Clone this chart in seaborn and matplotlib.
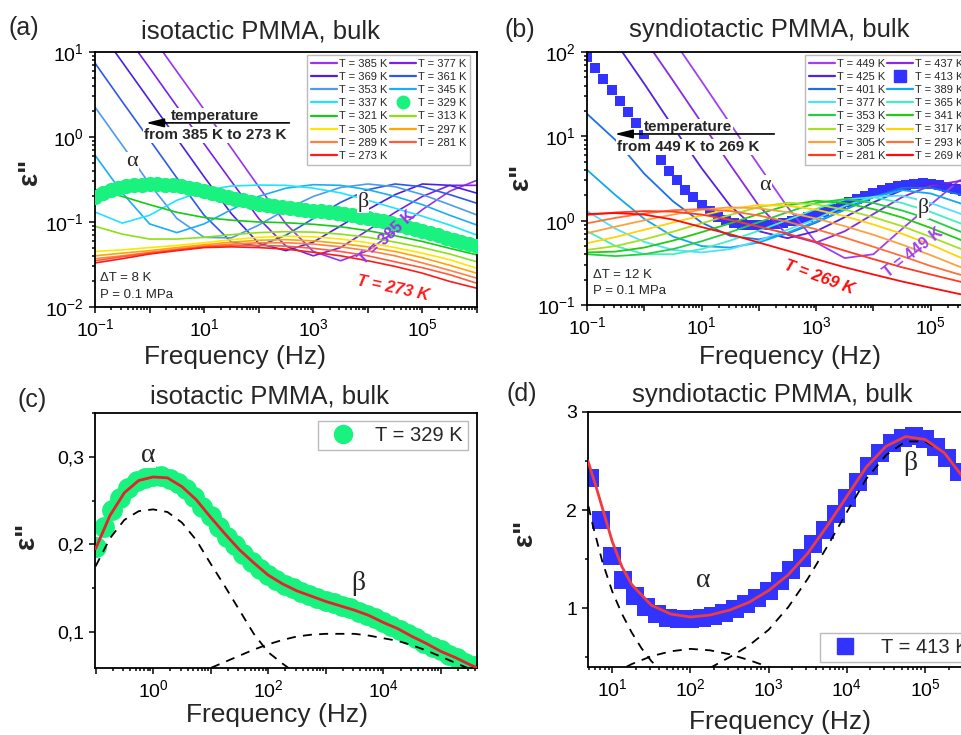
import numpy as np
import matplotlib
matplotlib.use("Agg")
import matplotlib.pyplot as plt
import seaborn as sns
from matplotlib.lines import Line2D
from matplotlib.ticker import LogLocator, FuncFormatter, MultipleLocator, NullFormatter

# ---------------- data ----------------
# frequency exponents (log10 Hz)
logf_grid = [-1.0, -0.5, 0.0, 0.5, 1.0, 1.5, 2.0, 2.5, 3.0, 3.5, 4.0, 4.5, 5.0, 5.5, 6.0]
logf_meas = [-1.0, -0.857, -0.714, -0.571, -0.429, -0.286, -0.143,
             0.0, 0.143, 0.286, 0.429, 0.571, 0.714, 0.857,
             1.0, 1.143, 1.286, 1.429, 1.571, 1.714, 1.857,
             2.0, 2.143, 2.286, 2.429, 2.571, 2.714, 2.857,
             3.0, 3.143, 3.286, 3.429, 3.571, 3.714, 3.857,
             4.0, 4.143, 4.286, 4.429, 4.571, 4.714, 4.857,
             5.0, 5.143, 5.286, 5.429, 5.571, 5.714, 5.857, 6.0]

# (a) isotactic PMMA, lines
iso_385 = [128, 45, 16.6, 5.9, 2.1, 0.74, 0.26, 0.095, 0.045, 0.035, 0.046, 0.078, 0.14, 0.23, 0.31]
iso_377 = [51, 18, 6.5, 2.3, 0.83, 0.30, 0.11, 0.052, 0.040, 0.050, 0.080, 0.13, 0.20, 0.27, 0.27]
iso_369 = [21.4, 7.6, 2.7, 0.96, 0.34, 0.125, 0.056, 0.046, 0.058, 0.09, 0.14, 0.21, 0.28, 0.27, 0.218]
iso_361 = [7.4, 2.6, 0.93, 0.33, 0.12, 0.058, 0.052, 0.07, 0.11, 0.17, 0.24, 0.28, 0.26, 0.21, 0.166]
iso_353 = [2.25, 0.80, 0.28, 0.11, 0.066, 0.065, 0.092, 0.14, 0.20, 0.255, 0.28, 0.26, 0.21, 0.16, 0.121]
iso_345 = [0.61, 0.22, 0.095, 0.075, 0.095, 0.14, 0.20, 0.25, 0.275, 0.27, 0.24, 0.20, 0.16, 0.12, 0.092]
iso_337 = [0.131, 0.097, 0.12, 0.18, 0.235, 0.265, 0.272, 0.27, 0.25, 0.22, 0.18, 0.145, 0.117, 0.092, 0.070]
iso_321 = [0.24, 0.20, 0.16, 0.13, 0.113, 0.105, 0.10, 0.098, 0.094, 0.088, 0.079, 0.069, 0.059, 0.049, 0.041]
iso_313 = [0.089, 0.072, 0.063, 0.063, 0.066, 0.071, 0.075, 0.077, 0.076, 0.072, 0.066, 0.058, 0.050, 0.042, 0.034]
iso_305 = [0.045, 0.047, 0.050, 0.053, 0.057, 0.062, 0.066, 0.068, 0.067, 0.063, 0.057, 0.050, 0.043, 0.036, 0.0285]
iso_297 = [0.040, 0.043, 0.046, 0.050, 0.054, 0.058, 0.061, 0.062, 0.060, 0.056, 0.051, 0.045, 0.038, 0.031, 0.0249]
iso_289 = [0.037, 0.040, 0.044, 0.048, 0.052, 0.055, 0.057, 0.057, 0.055, 0.051, 0.046, 0.040, 0.033, 0.027, 0.0218]
iso_281 = [0.035, 0.039, 0.043, 0.047, 0.051, 0.053, 0.053, 0.052, 0.049, 0.045, 0.040, 0.034, 0.029, 0.024, 0.019]
iso_273 = [0.033, 0.037, 0.042, 0.046, 0.050, 0.051, 0.050, 0.048, 0.044, 0.040, 0.035, 0.030, 0.025, 0.020, 0.0166]
# measured points at 329 K (panels a and c)
iso_329 = [0.197, 0.220, 0.239, 0.253, 0.264, 0.272, 0.276, 0.278, 0.278, 0.275,
           0.270, 0.263, 0.254, 0.243, 0.232, 0.220, 0.209, 0.199, 0.189, 0.180,
           0.172, 0.165, 0.159, 0.154, 0.150, 0.146, 0.142, 0.139, 0.136, 0.133,
           0.130, 0.127, 0.123, 0.120, 0.116, 0.111, 0.107, 0.102, 0.098, 0.093,
           0.088, 0.083, 0.079, 0.074, 0.070, 0.065, 0.061, 0.058, 0.055, 0.052]
temps_iso = [385, 377, 369, 361, 353, 345, 337, 329, 321, 313, 305, 297, 289, 281, 273]
colors_iso = ['#9933EE', '#7A22E6', '#4B20E0', '#2E5AE6', '#4C9BEF', '#1AAEF5', '#1EE4FF',
              '#1AF27F', '#14CC14', '#8EE014', '#FFE600', '#FFA500', '#FF8040', '#FF5A3C', '#FF1A1A']

# (b) syndiotactic PMMA, lines
syn_449 = [2000, 1000, 450, 141, 45, 14.1, 4.5, 1.45, 0.55, 0.36, 0.40, 0.80, 1.55, 3.0, 3.4]
syn_437 = [1400, 450, 143, 46, 14.5, 4.6, 1.5, 0.68, 0.55, 0.75, 1.2, 1.9, 2.6, 2.95, 2.8]
syn_425 = [400, 130, 42, 13, 4.2, 1.5, 0.75, 0.62, 0.75, 1.1, 1.65, 2.3, 2.75, 2.65, 2.25]
syn_401 = [18.5, 9.0, 3.6, 1.7, 0.95, 0.66, 0.60, 0.70, 0.95, 1.35, 1.90, 2.45, 2.45, 2.05, 1.6]
syn_389 = [4.0, 2.0, 1.05, 0.65, 0.50, 0.48, 0.55, 0.72, 0.98, 1.35, 1.90, 2.30, 2.10, 1.62, 1.2]
syn_377 = [1.30, 0.80, 0.56, 0.45, 0.42, 0.46, 0.58, 0.78, 1.05, 1.50, 1.92, 1.98, 1.62, 1.22, 0.92]
syn_365 = [0.75, 0.50, 0.40, 0.40, 0.46, 0.58, 0.76, 1.02, 1.38, 1.78, 1.90, 1.62, 1.27, 0.94, 0.70]
syn_353 = [0.40, 0.38, 0.40, 0.46, 0.57, 0.73, 0.96, 1.26, 1.62, 1.80, 1.62, 1.32, 1.03, 0.75, 0.55]
syn_341 = [0.42, 0.43, 0.48, 0.58, 0.73, 0.93, 1.20, 1.52, 1.72, 1.62, 1.37, 1.09, 0.82, 0.60, 0.43]
syn_329 = [0.45, 0.50, 0.60, 0.74, 0.93, 1.17, 1.45, 1.63, 1.56, 1.35, 1.10, 0.86, 0.64, 0.47, 0.34]
syn_317 = [0.54, 0.64, 0.78, 0.95, 1.15, 1.38, 1.53, 1.50, 1.35, 1.13, 0.90, 0.70, 0.52, 0.37, 0.27]
syn_305 = [0.71, 0.85, 1.01, 1.18, 1.35, 1.44, 1.40, 1.26, 1.06, 0.86, 0.68, 0.52, 0.39, 0.285, 0.22]
syn_293 = [0.93, 1.08, 1.22, 1.33, 1.37, 1.30, 1.15, 0.97, 0.79, 0.63, 0.49, 0.38, 0.29, 0.23, 0.19]
syn_281 = [1.17, 1.25, 1.30, 1.28, 1.18, 1.02, 0.85, 0.70, 0.56, 0.44, 0.35, 0.28, 0.23, 0.19, 0.16]
syn_269 = [1.20, 1.23, 1.18, 1.03, 0.84, 0.69, 0.55, 0.44, 0.35, 0.28, 0.23, 0.19, 0.16, 0.135, 0.115]
# measured points at 413 K (panels b and d)
syn_413 = [88, 65, 48, 35, 26, 19.5, 14.3, 10.4, 7.4, 5.2,
           3.9, 3.0, 2.33, 1.90, 1.53, 1.29, 1.12, 1.01, 0.94, 0.90,
           0.89, 0.89, 0.90, 0.92, 0.95, 0.99, 1.04, 1.10, 1.18, 1.28,
           1.39, 1.51, 1.65, 1.80, 1.96, 2.12, 2.29, 2.45, 2.58, 2.68,
           2.74, 2.76, 2.72, 2.64, 2.53, 2.39, 2.22, 2.04, 1.86, 1.68]
temps_syn = [449, 437, 425, 413, 401, 389, 377, 365, 353, 341, 329, 317, 305, 293, 281, 269]
colors_syn = ['#A040F0', '#8A2BE2', '#5522E0', '#3333FF', '#1F6FE0', '#10A8F0', '#50E0FF', '#40F0C0',
              '#20D040', '#22CC11', '#A8E020', '#FFD400', '#FFA040', '#FF7038', '#FF3A20', '#FF0A0A']

# (c) fit of 329 K and its two components
logf_fit_c = [-1, -0.75, -0.5, -0.25, 0, 0.25, 0.5, 0.75, 1, 1.25, 1.5, 1.75, 2, 2.25,
              2.5, 2.75, 3, 3.25, 3.5, 3.75, 4, 4.25, 4.5, 4.75, 5, 5.25, 5.5, 5.75]
fit_c = [0.195, 0.233, 0.259, 0.273, 0.277, 0.276, 0.266, 0.251, 0.231, 0.212, 0.194, 0.179, 0.165, 0.155,
         0.147, 0.141, 0.135, 0.130, 0.125, 0.119, 0.111, 0.104, 0.095, 0.087, 0.078, 0.071, 0.063, 0.056]
logf_alpha_c = [-1, -0.75, -0.5, -0.25, 0, 0.25, 0.5, 0.75, 1, 1.25, 1.5, 1.75, 2, 2.25, 2.5, 2.75]
alpha_c = [0.175, 0.207, 0.228, 0.238, 0.240, 0.237, 0.225, 0.205, 0.178, 0.152, 0.125, 0.098,
           0.077, 0.064, 0.052, 0.042]
logf_beta_c = [0.75, 1, 1.25, 1.5, 1.75, 2, 2.25, 2.5, 2.75, 3, 3.25, 3.5, 3.75, 4, 4.25, 4.5,
               4.75, 5, 5.25, 5.5, 5.75]
beta_c = [0.052, 0.059, 0.066, 0.073, 0.080, 0.086, 0.091, 0.095, 0.097, 0.098, 0.098, 0.098,
          0.096, 0.093, 0.090, 0.085, 0.079, 0.072, 0.065, 0.058, 0.052]

# (d) fit of 413 K and its components
logf_fit_d = [0.69, 0.8, 0.9, 1.0, 1.125, 1.25, 1.5, 1.75, 2.0, 2.25, 2.5, 2.75, 3.0, 3.25,
              3.5, 3.75, 4.0, 4.25, 4.5, 4.75, 5.0, 5.25, 5.5, 5.75]
fit_d = [2.50, 2.22, 1.95, 1.68, 1.42, 1.24, 1.03, 0.94, 0.91, 0.93, 0.98, 1.06, 1.18, 1.34,
         1.56, 1.84, 2.14, 2.44, 2.65, 2.75, 2.72, 2.58, 2.32, 2.00]
logf_cond_d = [0.65, 0.75, 0.875, 1.0, 1.125, 1.25, 1.375, 1.5, 1.625]
cond_d = [2.2, 1.85, 1.47, 1.17, 0.94, 0.75, 0.59, 0.46, 0.36]
logf_alpha_d = [1.0, 1.25, 1.5, 1.75, 2.0, 2.25, 2.5, 2.75, 3.0, 3.25]
alpha_d = [0.33, 0.43, 0.51, 0.56, 0.585, 0.57, 0.53, 0.47, 0.40, 0.33]
logf_beta_d = [2.25, 2.5, 2.75, 3.0, 3.25, 3.5, 3.75, 4.0, 4.25, 4.5, 4.75, 5.0, 5.25, 5.5, 5.75]
beta_d = [0.39, 0.50, 0.62, 0.78, 1.01, 1.30, 1.63, 1.98, 2.32, 2.56, 2.70, 2.70, 2.58, 2.33, 2.02]

# ---------------- style ----------------
sns.set_theme(style="ticks")
plt.rcParams['font.family'] = ['Liberation Sans', 'DejaVu Sans']
plt.rcParams['mathtext.fontset'] = 'custom'
plt.rcParams['mathtext.rm'] = 'Liberation Sans'
plt.rcParams['mathtext.it'] = 'Liberation Sans:italic'
plt.rcParams['mathtext.bf'] = 'Liberation Sans:bold'
plt.rcParams['axes.edgecolor'] = 'black'
plt.rcParams['axes.linewidth'] = 1.3
plt.rcParams['xtick.color'] = 'black'
plt.rcParams['ytick.color'] = 'black'

SERIF = ['Liberation Serif', 'DejaVu Serif']
W, H = 961, 735


def box(l, t, r, b):
    return [l / W, 1 - b / H, (r - l) / W, (b - t) / H]


def decade_label(v, rule):
    e = int(round(np.log10(v)))
    if rule == 'odd' and e % 2 == 0:
        return ''
    if rule == 'even' and e % 2 != 0:
        return ''
    return r'$\mathregular{10^{%d}}$' % e


def log_axis(axis, rule):
    axis.set_major_locator(LogLocator(base=10, numticks=30))
    axis.set_minor_locator(LogLocator(base=10, subs=np.arange(2, 10), numticks=30))
    axis.set_minor_formatter(NullFormatter())
    axis.set_major_formatter(FuncFormatter(lambda v, p: decade_label(v, rule)))


def style_ax(ax):
    ax.tick_params(which='both', direction='out', labelsize=14, width=1.1, top=False, right=False)
    ax.tick_params(which='major', length=4.5)
    ax.tick_params(which='minor', length=2.5)
    for s in ax.spines.values():
        s.set_visible(True)
        s.set_linewidth(1.3)


def labels(ax, xl, yl):
    ax.set_xlabel('Frequency (Hz)', fontsize=19, va='center')
    ax.xaxis.set_label_coords(*xl)
    ax.set_ylabel('ε"', fontsize=20, fontweight='bold', va='center')
    ax.yaxis.set_label_coords(*yl)


def greek(ax, x, y, s, size):
    ax.text(x, y, s, transform=ax.transAxes, fontsize=size, family=SERIF, ha='center', va='center',
            bbox=dict(fc='white', ec='none', pad=0.5), zorder=5)


def temp_note(ax, xc, y1, y2, text, xa, xb, ya):
    for y, s in [(y1, 'temperature'), (y2, text)]:
        ax.text(xc, y, s, transform=ax.transAxes, fontsize=11, fontweight='bold',
                ha='center', va='center', zorder=5,
                bbox=dict(fc='white', ec='none', pad=0.5))
    ax.annotate('', xy=(xb, ya), xytext=(xa, ya), xycoords='axes fraction',
                arrowprops=dict(arrowstyle='-|>,head_length=0.9,head_width=0.22', color='black',
                                lw=1.2, mutation_scale=12),
                zorder=7)


def temp_legend(ax, handles, order, **kw):
    ax.legend([handles[t] for t in order], ['T = %d K' % t for t in order], ncol=2, fontsize=8,
              borderaxespad=0, handlelength=2.35, handletextpad=0.18, columnspacing=0.18,
              labelspacing=0.28, borderpad=0.35, fancybox=False, framealpha=1,
              edgecolor='#BBBBBB', **kw)


fig = plt.figure(figsize=(9.61, 7.35), dpi=100)
ax_a = fig.add_axes(box(95, 52, 477, 307))
ax_b = fig.add_axes(box(587, 52, 988, 305))
ax_c = fig.add_axes(box(95, 413, 477, 668))
ax_d = fig.add_axes(box(588, 412, 972, 667))

freq_grid = 10.0 ** np.array(logf_grid)
freq_meas = 10.0 ** np.array(logf_meas)

# ---------------- (a) ----------------
ax = ax_a
ax.set_xscale('log')
ax.set_yscale('log')
iso_lines = [iso_385, iso_377, iso_369, iso_361, iso_353, iso_345, iso_337, None,
             iso_321, iso_313, iso_305, iso_297, iso_289, iso_281, iso_273]
handles_a = {}
for T, vals, col in zip(temps_iso, iso_lines, colors_iso):
    if vals is None:
        sns.scatterplot(x=freq_meas, y=iso_329, marker='o', s=120, color=col, linewidth=0,
                        ax=ax, zorder=3)
        handles_a[T] = Line2D([], [], marker='o', ls='none', color=col, markersize=9)
    else:
        sns.lineplot(x=freq_grid, y=vals, color=col, linewidth=1.2, ax=ax)
        handles_a[T] = Line2D([], [], color=col, lw=1.6)
ax.set_xlim(1e-1, 1e6)
ax.set_ylim(1e-2, 1e1)
log_axis(ax.xaxis, 'odd')
log_axis(ax.yaxis, 'all')
style_ax(ax)
labels(ax, (0.366, -0.195), (-0.17, 0.53))
temp_legend(ax, handles_a, temps_iso[0::2] + temps_iso[1::2],
            loc='upper right', bbox_to_anchor=(0.982, 0.988))
temp_note(ax, 0.314, 0.749, 0.675, 'from 385 K to 273 K', 0.516, 0.126, 0.722)
greek(ax, 0.097, 0.569, 'α', 16)
greek(ax, 0.702, 0.412, 'β', 16)
ax.text(0.764, 0.271, 'T = 385 K', transform=ax.transAxes, fontsize=11.5, fontweight='bold',
        color='#9933EE', rotation=43, ha='center', va='center', rotation_mode='anchor', zorder=5)
ax.text(0.780, 0.075, 'T = 273 K', transform=ax.transAxes, fontsize=12, fontweight='bold',
        fontstyle='italic', color='#FF1A1A', rotation=-12, ha='center', va='center',
        rotation_mode='anchor', zorder=5)
ax.text(0.013, 0.114, 'ΔT = 8 K', transform=ax.transAxes, fontsize=9.5, ha='left', va='center')
ax.text(0.013, 0.047, 'P = 0.1 MPa', transform=ax.transAxes, fontsize=9.5, ha='left', va='center')
ax.text(0.432, 1.082, 'isotactic PMMA, bulk', transform=ax.transAxes, fontsize=18.5,
        ha='center', va='center')

# ---------------- (b) ----------------
ax = ax_b
ax.set_xscale('log')
ax.set_yscale('log')
syn_lines = [syn_449, syn_437, syn_425, None, syn_401, syn_389, syn_377, syn_365,
             syn_353, syn_341, syn_329, syn_317, syn_305, syn_293, syn_281, syn_269]
handles_b = {}
for T, vals, col in zip(temps_syn, syn_lines, colors_syn):
    if vals is None:
        sns.scatterplot(x=freq_meas, y=syn_413, marker='s', s=48, color=col, linewidth=0,
                        ax=ax, zorder=1.8)
        handles_b[T] = Line2D([], [], marker='s', ls='none', color=col, markersize=8)
    else:
        sns.lineplot(x=freq_grid, y=vals, color=col, linewidth=1.3, ax=ax)
        handles_b[T] = Line2D([], [], color=col, lw=1.6)
ax.set_xlim(1e-1, 1e6)
ax.set_ylim(1e-1, 1e2)
log_axis(ax.xaxis, 'odd')
log_axis(ax.yaxis, 'all')
style_ax(ax)
labels(ax, (0.506, -0.204), (-0.165, 0.506))
temp_legend(ax, handles_b, temps_syn[0::2] + temps_syn[1::2],
            loc='upper left', bbox_to_anchor=(0.543, 0.988))
temp_note(ax, 0.252, 0.704, 0.625, 'from 449 K to 269 K', 0.474, 0.062, 0.676)
greek(ax, 0.444, 0.474, 'α', 16)
greek(ax, 0.838, 0.383, 'β', 16)
ax.text(0.813, 0.206, 'T = 449 K', transform=ax.transAxes, fontsize=11.5, fontweight='bold',
        color='#A040F0', rotation=38, ha='center', va='center', rotation_mode='anchor', zorder=5)
ax.text(0.579, 0.111, 'T = 269 K', transform=ax.transAxes, fontsize=12, fontweight='bold',
        fontstyle='italic', color='#FF0A0A', rotation=-20, ha='center', va='center',
        rotation_mode='anchor', zorder=5)
ax.text(0.015, 0.119, 'ΔT = 12 K', transform=ax.transAxes, fontsize=9.5, ha='left', va='center')
ax.text(0.015, 0.057, 'P = 0.1 MPa', transform=ax.transAxes, fontsize=9.5, ha='left', va='center')
ax.text(0.454, 1.087, 'syndiotactic PMMA, bulk', transform=ax.transAxes, fontsize=18.5,
        ha='center', va='center')

# ---------------- (c) ----------------
ax = ax_c
ax.set_xscale('log')
sns.scatterplot(x=freq_meas, y=iso_329, marker='o', s=225, color='#1AF27F', linewidth=0,
                ax=ax, zorder=2.5)
sns.lineplot(x=10.0 ** np.array(logf_alpha_c), y=alpha_c, color='black', linewidth=1.3,
             linestyle=(0, (5, 4)), ax=ax, zorder=3)
sns.lineplot(x=10.0 ** np.array(logf_beta_c), y=beta_c, color='black', linewidth=1.3,
             linestyle=(0, (5, 4)), ax=ax, zorder=3)
sns.lineplot(x=10.0 ** np.array(logf_fit_c), y=fit_c, color='#E8202A', linewidth=2.0, ax=ax,
             zorder=4)
ax.set_xlim(10 ** -1.01, 10 ** 5.63)
ax.set_ylim(0.059, 0.35)
log_axis(ax.xaxis, 'even')
ax.yaxis.set_major_locator(MultipleLocator(0.1))
ax.yaxis.set_minor_locator(MultipleLocator(0.05))
ax.yaxis.set_major_formatter(FuncFormatter(lambda v, p: ('%.1f' % v).replace('.', ',')))
style_ax(ax)
labels(ax, (0.476, -0.184), (-0.178, 0.518))
ax.legend([Line2D([], [], marker='o', ls='none', color='#1AF27F', markersize=13)], ['T = 329 K'],
          fontsize=14.5, loc='upper right', bbox_to_anchor=(0.976, 0.969), borderaxespad=0,
          handletextpad=0.6, borderpad=0.25, fancybox=False, framealpha=1, edgecolor='#BBBBBB')
greek(ax, 0.139, 0.835, 'α', 20)
greek(ax, 0.688, 0.333, 'β', 20)
ax.text(0.458, 1.063, 'isotactic PMMA, bulk', transform=ax.transAxes, fontsize=18.5,
        ha='center', va='center')

# ---------------- (d) ----------------
ax = ax_d
ax.set_xscale('log')
sns.scatterplot(x=freq_meas, y=syn_413, marker='s', s=150, color='#3333FF', linewidth=0,
                ax=ax, zorder=2.5)
for lf, vals in [(logf_cond_d, cond_d), (logf_alpha_d, alpha_d), (logf_beta_d, beta_d)]:
    sns.lineplot(x=10.0 ** np.array(lf), y=vals, color='black', linewidth=1.3,
                 linestyle=(0, (5, 4)), ax=ax, zorder=3)
sns.lineplot(x=10.0 ** np.array(logf_fit_d), y=fit_d, color='#F03C3C', linewidth=2.0, ax=ax,
             zorder=4)
ax.set_xlim(10 ** 0.69, 10 ** 5.6)
ax.set_ylim(0.4, 3.0)
log_axis(ax.xaxis, 'all')
ax.yaxis.set_major_locator(MultipleLocator(1))
ax.yaxis.set_minor_locator(MultipleLocator(0.5))
ax.yaxis.set_major_formatter(FuncFormatter(lambda v, p: '%d' % round(v)))
style_ax(ax)
labels(ax, (0.5, -0.216), (-0.164, 0.525))
ax.legend([Line2D([], [], marker='s', ls='none', color='#3333FF', markersize=12)], ['T = 413 K'],
          fontsize=14.5, loc='upper left', bbox_to_anchor=(0.604, 0.133), borderaxespad=0,
          handletextpad=0.8, borderpad=0.25, fancybox=False, framealpha=1, edgecolor='#BBBBBB')
greek(ax, 0.30, 0.341, 'α', 20)
greek(ax, 0.839, 0.80, 'β', 20)
ax.text(0.479, 1.067, 'syndiotactic PMMA, bulk', transform=ax.transAxes, fontsize=18.5,
        ha='center', va='center')

# panel letters
for s, (px, py) in zip(['(a)', '(b)', '(c)', '(d)'], [(24, 28), (520, 30), (32, 400), (522, 394)]):
    fig.text(px / W, 1 - py / H, s, fontsize=18, ha='center', va='center')

fig.savefig('out.png', dpi=100)
